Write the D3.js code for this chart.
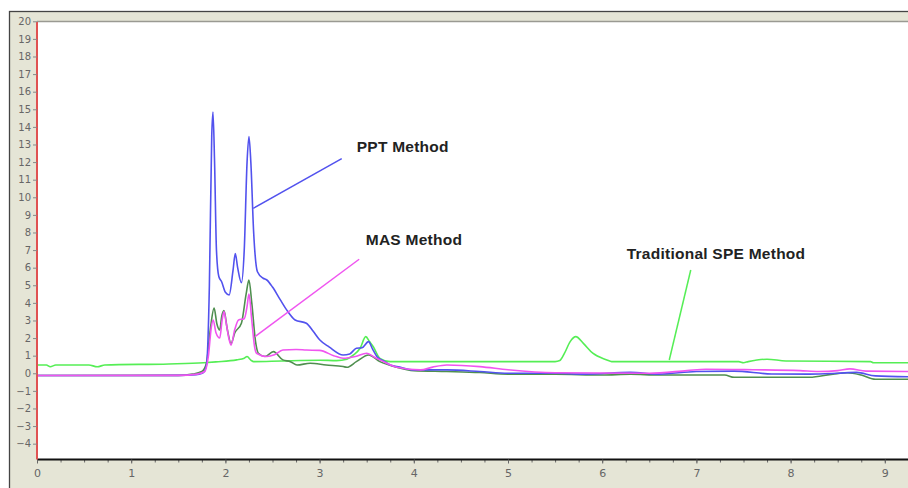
<!DOCTYPE html>
<html>
<head>
<meta charset="utf-8">
<script src="https://cdn.jsdelivr.net/npm/d3@7"></script>
<style>
  body { margin: 0; background: #fff; }
  .tick text { font-family: Tahoma, "DejaVu Sans", sans-serif; fill: #666; }
  .note { font-family: Arial, "Liberation Sans", sans-serif; font-weight: bold; font-size: 15.5px; letter-spacing: 0.25px; fill: #222; }
</style>
</head>
<body>
<div class="chart"></div>
<script>
// retention time (min) / response pairs
var pptMethod = [
  [0, -0.13], [1.0, -0.13], [1.5, -0.12], [1.65, -0.1], [1.72, -0.05], [1.77, 0.05], [1.8, 0.5],
  [1.83, 5], [1.855, 13.5], [1.868, 14.85], [1.885, 12], [1.905, 7], [1.93, 5.5], [1.96, 5.2],
  [2.0, 4.6], [2.04, 4.45], [2.08, 5.8], [2.105, 6.8], [2.13, 6.0], [2.17, 5.15], [2.2, 7],
  [2.23, 12], [2.25, 13.45], [2.27, 12], [2.3, 8], [2.34, 5.77], [2.4, 5.4], [2.44, 5.3],
  [2.5, 4.9], [2.58, 4.2], [2.65, 3.6], [2.74, 3.03], [2.86, 2.84], [2.93, 2.4], [3.0, 1.9],
  [3.1, 1.5], [3.25, 1.04], [3.32, 1.1], [3.39, 1.42], [3.45, 1.45], [3.52, 1.8], [3.56, 1.4],
  [3.61, 0.94], [3.68, 0.7], [3.75, 0.47], [3.85, 0.35], [4.0, 0.19], [4.35, 0.19], [4.7, 0.1],
  [5.0, 0.0], [5.5, 0.0], [5.8, -0.05], [6.3, 0.05], [6.6, -0.05], [7.0, 0.1], [7.4, 0.12],
  [7.8, -0.04], [8.2, -0.05], [8.5, 0.0], [8.7, 0.05], [8.9, -0.15], [9.25, -0.2]
];

var masMethod = [
  [0, -0.13], [1.5, -0.12], [1.7, -0.05], [1.78, 0.1], [1.82, 1.0], [1.85, 2.6], [1.87, 3.03],
  [1.9, 2.3], [1.94, 2.0], [1.965, 3.0], [1.985, 3.5], [2.01, 2.8], [2.04, 1.9], [2.06, 1.6],
  [2.1, 2.5], [2.14, 3.03], [2.2, 3.1], [2.23, 3.8], [2.25, 4.5], [2.28, 3.0], [2.31, 1.5],
  [2.33, 1.14], [2.44, 0.95], [2.52, 1.05], [2.61, 1.32], [2.75, 1.35], [2.86, 1.32], [3.0, 1.3],
  [3.15, 1.0], [3.25, 0.85], [3.38, 0.95], [3.5, 1.14], [3.57, 0.95], [3.64, 0.76], [3.82, 0.34],
  [4.07, 0.19], [4.2, 0.35], [4.35, 0.47], [4.7, 0.38], [5.0, 0.2], [5.5, 0.03], [6.5, 0.0],
  [6.9, 0.15], [7.1, 0.23], [7.6, 0.2], [8.1, 0.15], [8.3, 0.1], [8.5, 0.15], [8.63, 0.25],
  [8.8, 0.12], [9.25, 0.1]
];

var otherRun = [
  [0, -0.13], [1.5, -0.12], [1.65, -0.05], [1.75, 0.1], [1.8, 0.6], [1.84, 2.5], [1.88, 3.7],
  [1.91, 2.8], [1.94, 2.46], [1.96, 3.2], [1.985, 3.56], [2.02, 2.5], [2.06, 1.7], [2.1, 2.3],
  [2.17, 2.84], [2.22, 4.5], [2.25, 5.3], [2.28, 4], [2.32, 1.8], [2.35, 1.14], [2.42, 0.95],
  [2.51, 1.23], [2.61, 0.76], [2.69, 0.66], [2.76, 0.47], [2.9, 0.57], [3.07, 0.47], [3.25, 0.38],
  [3.29, 0.34], [3.39, 0.66], [3.52, 1.04], [3.64, 0.66], [3.82, 0.34], [4.0, 0.15], [4.35, 0.1],
  [4.7, 0.04], [5.0, -0.05], [5.5, -0.05], [6.0, -0.1], [6.3, -0.05], [6.6, -0.1], [7.3, -0.1],
  [7.4, -0.23], [8.2, -0.23], [8.45, -0.05], [8.6, 0.03], [8.75, -0.1], [8.9, -0.34], [9.25, -0.34]
];

var speMethod = [
  [0, 0.47], [0.1, 0.47], [0.14, 0.37], [0.2, 0.47], [0.55, 0.47], [0.64, 0.37], [0.72, 0.47],
  [1.4, 0.53], [1.77, 0.6], [1.9, 0.65], [2.12, 0.76], [2.2, 0.85], [2.23, 0.95], [2.27, 0.75],
  [2.3, 0.66], [2.6, 0.7], [3.0, 0.74], [3.18, 0.72], [3.29, 0.8], [3.36, 1.04], [3.43, 1.42],
  [3.49, 2.08], [3.53, 1.8], [3.57, 1.51], [3.64, 0.85], [3.75, 0.66], [5.5, 0.66], [5.55, 0.72],
  [5.6, 1.14], [5.66, 1.8], [5.72, 2.08], [5.8, 1.7], [5.9, 1.14], [6.05, 0.76], [6.1, 0.66],
  [7.45, 0.66], [7.5, 0.6], [7.55, 0.66], [7.75, 0.8], [7.95, 0.7], [8.85, 0.66], [8.88, 0.6],
  [9.25, 0.6]
];

var yTicks = d3.range(-4, 21);
var xTicks = d3.range(0, 10);
var xMinor = d3.range(0, 9.26, 0.25);

// labels: text position and leader line (from, to), in data units
var notes = [
  { text: "PPT Method", tx: 3.394, ty: 12.6, from: [2.296, 9.375], to: [3.235, 12.2], color: "#5252ee" },
  { text: "MAS Method", tx: 3.49, ty: 7.27, from: [2.314, 2.08], to: [3.42, 6.48], color: "#f055f0" },
  { text: "Traditional SPE Method", tx: 6.26, ty: 6.51, from: [6.712, 0.756], to: [6.94, 5.87], color: "#55ee55" }
];

var svgWidth = 908;
var svgHeight = 488;
var margin = { top: 21.3, right: 0, bottom: 28.5, left: 37 };

var svg = d3.select(".chart")
  .append("svg")
  .attr("width", svgWidth)
  .attr("height", svgHeight);

// beige frame around the plot
svg.append("rect")
  .attr("x", 9.5).attr("y", 11.5)
  .attr("width", svgWidth).attr("height", svgHeight)
  .attr("fill", "#e5e5d6")
  .attr("stroke", "#444")
  .attr("stroke-width", 1.3);

var xScale = d3.scaleLinear()
  .domain([0, 9.25])
  .range([margin.left, margin.left + 94.2 * 9.25]);

var yScale = d3.scaleLinear()
  .domain([-4.9, 20])
  .range([svgHeight - margin.bottom, margin.top]);

var plotTop = 22;
var plotBottom = yScale(-4.9);

svg.append("rect")
  .attr("x", margin.left).attr("y", plotTop)
  .attr("width", svgWidth - margin.left).attr("height", plotBottom - plotTop)
  .attr("fill", "#fff");

svg.append("line")
  .attr("x1", margin.left).attr("x2", svgWidth)
  .attr("y1", plotTop - 0.5).attr("y2", plotTop - 0.5)
  .attr("stroke", "#9a9a92")
  .attr("stroke-width", 1.5);

svg.append("clipPath").attr("id", "plotClip")
  .append("rect")
  .attr("x", margin.left).attr("y", plotTop)
  .attr("width", svgWidth - margin.left).attr("height", plotBottom - plotTop);

var line = d3.line()
  .x(function(d) { return xScale(d[0]); })
  .y(function(d) { return yScale(d[1]); })
  .curve(d3.curveMonotoneX);

var series = [
  { data: speMethod, color: "#55ee55" },
  { data: otherRun, color: "#4f8f4f" },
  { data: pptMethod, color: "#5252ee" },
  { data: masMethod, color: "#f055f0" }
];

var lines = svg.append("g").attr("clip-path", "url(#plotClip)");
lines.selectAll("path")
  .data(series)
  .enter()
  .append("path")
  .attr("d", function(s) { return line(s.data); })
  .attr("fill", "none")
  .attr("stroke", function(s) { return s.color; })
  .attr("stroke-width", 1.6)
  .attr("stroke-linejoin", "round");

// annotation leaders and labels
notes.forEach(function(n) {
  svg.append("line")
    .attr("x1", xScale(n.from[0])).attr("y1", yScale(n.from[1]))
    .attr("x2", xScale(n.to[0])).attr("y2", yScale(n.to[1]))
    .attr("stroke", n.color)
    .attr("stroke-width", 1.5);
  svg.append("text")
    .attr("class", "note")
    .attr("x", xScale(n.tx))
    .attr("y", yScale(n.ty))
    .text(n.text);
});

// axes
var minorAxis = d3.axisBottom(xScale).tickValues(xMinor).tickSize(3).tickFormat("");
svg.append("g")
  .attr("transform", "translate(0," + plotBottom + ")")
  .call(minorAxis)
  .call(function(g) { g.select(".domain").remove(); })
  .selectAll("line").attr("stroke", "#666");

var bottomAxis = d3.axisBottom(xScale).tickValues(xTicks).tickSize(4).tickPadding(6).tickFormat(d3.format("d"));
var xAxisG = svg.append("g")
  .attr("transform", "translate(0," + plotBottom + ")")
  .call(bottomAxis);
xAxisG.select(".domain")
  .attr("stroke", "#111")
  .attr("stroke-width", 2)
  .attr("d", "M" + margin.left + ",0H" + svgWidth);
xAxisG.selectAll(".tick line").attr("stroke", "#666");
xAxisG.selectAll("text").attr("font-size", "11px");

var leftAxis = d3.axisLeft(yScale).tickValues(yTicks).tickSize(4).tickPadding(2).tickFormat(d3.format("d"));
var yAxisG = svg.append("g")
  .attr("transform", "translate(" + margin.left + ",0)")
  .call(leftAxis);
yAxisG.select(".domain")
  .attr("stroke", "#e05252")
  .attr("stroke-width", 2)
  .attr("d", "M0," + plotTop + "V" + plotBottom);
yAxisG.selectAll(".tick line").attr("stroke", "#888");
yAxisG.selectAll("text").attr("font-size", "10px");
</script>
</body>
</html>
